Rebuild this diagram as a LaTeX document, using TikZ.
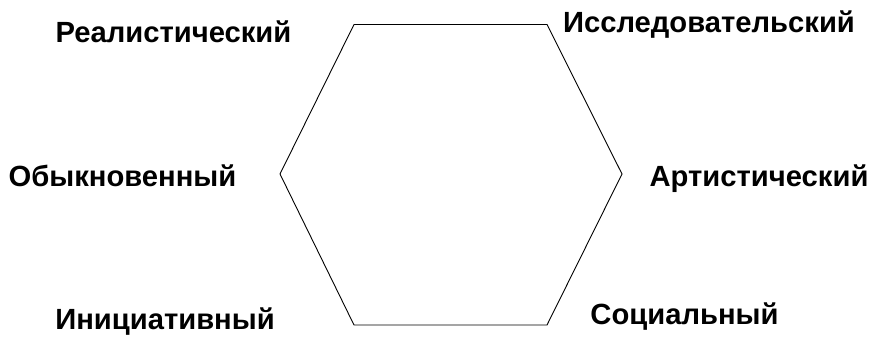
\documentclass[tikz,border=0pt]{standalone}
\usepackage{fontspec}
\setmainfont{Liberation Sans}
\usepackage{tikz}

\begin{document}
\begin{tikzpicture}[
  x=1pt, y=1pt,
  type/.style={anchor=base, inner sep=0pt, font=\fontsize{29.2}{35}\selectfont\bfseries},
  edge/.style={line width=0.9pt, line join=miter},
]
  \useasboundingbox (0,0) rectangle (872,342);

  % hexagon corners
  \coordinate (tl) at (354,317.5);
  \coordinate (tr) at (547,317.5);
  \coordinate (rr) at (622,168);
  \coordinate (br) at (547,17);
  \coordinate (bl) at (354,17);
  \coordinate (ll) at (280,168);
  \draw[edge] (tl) -- (tr) -- (rr) -- (br) -- (bl) -- (ll) -- cycle;

  \node[type] (real) at (173.5,299) {Реалистический};
  \node[type] (issl) at (709,309) {Исследовательский};
  \node[type] (obyk) at (122.5,155) {Обыкновенный};
  \node[type] (arti) at (759,155) {Артистический};
  \node[type] (inic) at (165,12) {Инициативный};
  \node[type] (soci) at (684.5,17) {Социальный};
\end{tikzpicture}
\end{document}
